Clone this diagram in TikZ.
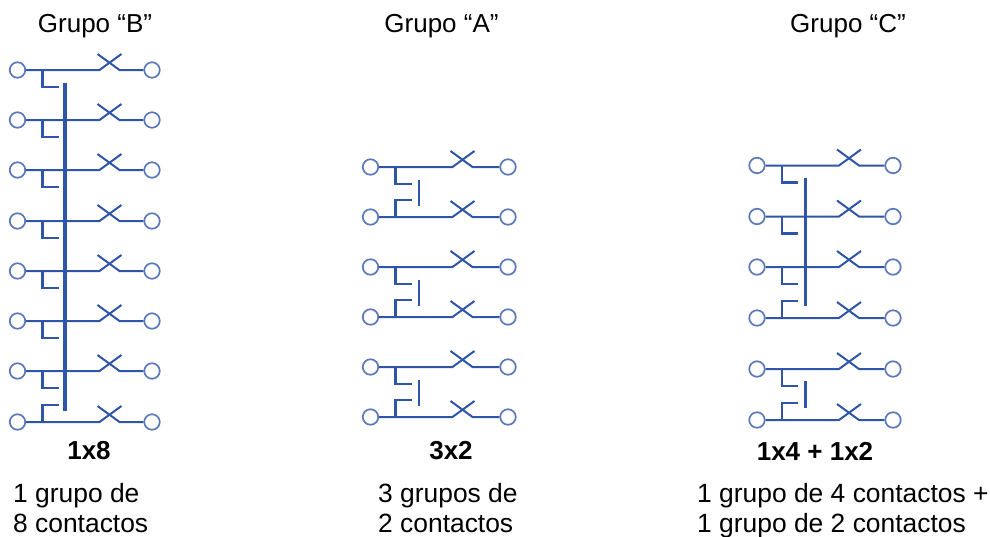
\documentclass[tikz,border=0pt]{standalone}
\usepackage{fontspec}
\setmainfont{Liberation Sans}
\usepackage{tikz,pgffor}
\usetikzlibrary{calc}
\usetikzlibrary{positioning}
\definecolor{contactblue}{HTML}{2F55A8}
\definecolor{termblue}{HTML}{5B78B8}
\tikzstyle{term} = [
    circle,
    draw=termblue,
    line width=1.7pt,
    minimum size=15.5pt,
    inner sep=0pt
]
\tikzstyle{wire}  = [
    draw=contactblue,
    line width=2pt
]
\tikzstyle{stub}  = [
    draw=contactblue,
    line width=2.6pt,
    line cap=butt
]
\tikzstyle{gang}  = [
    draw=contactblue,
    line width=2.6pt
]
\tikzstyle{title} = [font=\fontsize{26}{30}\selectfont]
\tikzstyle{code}  = [font=\fontsize{26}{30}\selectfont\bfseries]
\tikzstyle{desc}  = [font=\fontsize{26.4}{30}\selectfont, align=left, anchor=west, inner sep=0pt, execute at end node=\strut]
% name, left terminal x, right terminal x, row y
\newcommand{\contactrow}[4]{
\node[term] (#1l) at (#2,#4) {};
\node[term] (#1r) at (#3,#4) {};
\coordinate (#1s) at (#2+25,#4);
\coordinate (#1a) at (#2+82,#4);
\coordinate (#1b) at (#2+104,#4-16);
\coordinate (#1c) at (#2+80,#4-16);
\coordinate (#1d) at (#2+102,#4);
\draw[wire] (#1l) -- (#1a) -- (#1b);
\draw[wire] (#1c) -- (#1d) -- (#1r);
}
\newcommand{\stubdown}[1]{\draw[stub] (#1s) -- ++(0,17) -- ++(16,0);}
\newcommand{\stubup}[1]{\draw[stub] (#1s) -- ++(0,-17) -- ++(16,0);}

\begin{document}
\begin{tikzpicture}[x=1pt, y=-1pt]
\useasboundingbox (0,0) rectangle (990,536);

\node[title] (titleB) at (95,26)  {Grupo “B”};
\node[title] (titleA) at (441.5,26) {Grupo “A”};
\node[title] (titleC) at (848,26) {Grupo “C”};

% Grupo B
\foreach \i/\y in {1/70,2/120,3/170,4/221,5/271,6/321,7/371,8/422}
{
\contactrow{b\i}{17.5}{152}{\y}
}
\foreach \i in {1,...,7}
{
\stubdown{b\i}
}
\stubup{b8}
\coordinate (barBtop) at (65,83);
\coordinate (barBbot) at (65,411);
\draw[gang, line width=3.4pt] (barBtop) -- (barBbot);

% Grupo A
\foreach \i/\y in {1/167,2/217,3/267,4/317,5/367,6/417}
{
\contactrow{a\i}{370.5}{508}{\y}
}
\foreach \i/\j/\y in {1/2/180,3/4/280,5/6/380}
{
\stubdown{a\i}
\stubup{a\j}
\coordinate (barA\i top) at (419,\y);
\coordinate (barA\i bot) at (419,\y+26);
\draw[gang] (barA\i top) -- (barA\i bot);
}

% Grupo C
\foreach \i/\y in {1/165.5,2/216.5,3/267,4/318,5/369,6/420}
{
\contactrow{c\i}{757}{893}{\y}
}
\stubdown{c1}
\stubdown{c2}
\stubdown{c3}
\stubup{c4}
\stubdown{c5}
\stubup{c6}
\coordinate (barCtop) at (805.5,178);
\coordinate (barCbot) at (805.5,306);
\draw[gang] (barCtop) -- (barCbot);
\coordinate (barDtop) at (805.5,381);
\coordinate (barDbot) at (805.5,408);
\draw[gang] (barDtop) -- (barDbot);

\node[code] (codeB) at (89,451)  {1x8};
\node[code] (codeA) at (451,451) {3x2};
\node[code] (codeC) at (815,451) {1x4 + 1x2};

\node[desc] (descB) at (13,512)  {1 grupo de\\8 contactos};
\node[desc] (descA) at (378,512) {3 grupos de\\2 contactos};
\node[desc] (descC) at (697,512) {1 grupo de 4 contactos +\\1 grupo de 2 contactos};

\end{tikzpicture}
\end{document}
